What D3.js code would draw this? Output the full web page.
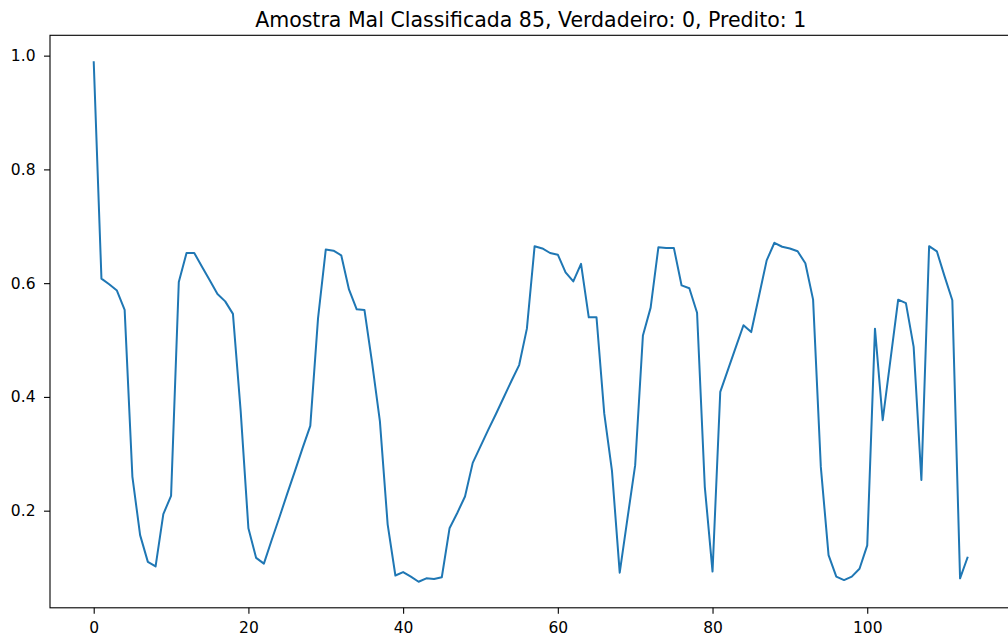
<!DOCTYPE html>
<html>
<head>
<meta charset="utf-8">
<script src="https://cdn.jsdelivr.net/npm/d3@7"></script>
<style>
  html, body { margin: 0; padding: 0; background: #ffffff; }
  svg { display: block; font-family: "DejaVu Sans", sans-serif; }
</style>
</head>
<body>
<svg id="chart" width="1008" height="644"></svg>
<script>
const title = "Amostra Mal Classificada 85, Verdadeiro: 0, Predito: 1";

const values = [
  0.990, 0.608, 0.598, 0.587, 0.553, 0.260, 0.157, 0.110, 0.102, 0.194,
  0.226, 0.602, 0.653, 0.653, 0.629, 0.605, 0.581, 0.568, 0.546, 0.375,
  0.169, 0.117, 0.107, 0.148, 0.188, 0.229, 0.269, 0.310, 0.349, 0.538,
  0.659, 0.657, 0.649, 0.589, 0.554, 0.553, 0.459, 0.357, 0.176, 0.086,
  0.092, 0.084, 0.075, 0.081, 0.080, 0.083, 0.169, 0.196, 0.225, 0.284,
  0.313, 0.342, 0.370, 0.399, 0.428, 0.456, 0.520, 0.665, 0.661, 0.653,
  0.650, 0.619, 0.603, 0.634, 0.540, 0.540, 0.371, 0.270, 0.091, 0.186,
  0.280, 0.508, 0.557, 0.663, 0.662, 0.662, 0.596, 0.591, 0.548, 0.242,
  0.093, 0.409, 0.448, 0.487, 0.526, 0.514, 0.577, 0.640, 0.671, 0.664,
  0.661, 0.656, 0.635, 0.571, 0.277, 0.122, 0.084, 0.078, 0.084, 0.098,
  0.139, 0.520, 0.359, 0.465, 0.571, 0.565, 0.488, 0.254, 0.665, 0.656,
  0.612, 0.570, 0.081, 0.119
];

const xTicks = [0, 20, 40, 60, 80, 100];
const yTicks = [0.2, 0.4, 0.6, 0.8, 1.0];

const svg = d3.select("#chart");
const mLeft = 50, mTop = 35.3, plotW = 961.5, plotH = 572.5;

const n = values.length;
const xPad = (n - 1) * 0.05;
const x = d3.scaleLinear().domain([-xPad, (n - 1) + xPad]).range([mLeft, mLeft + plotW]);
const [ymin, ymax] = d3.extent(values);
const yPad = (ymax - ymin) * 0.05;
const y = d3.scaleLinear().domain([ymin - yPad, ymax + yPad]).range([mTop + plotH, mTop]);

// line
const line = d3.line().x((d, i) => x(i)).y(d => y(d));
svg.append("path")
  .datum(values)
  .attr("d", line)
  .attr("fill", "none")
  .attr("stroke", "#1f77b4")
  .attr("stroke-width", 2)
  .attr("stroke-linejoin", "round")
  .attr("stroke-linecap", "butt");

// axes
const xAxis = d3.axisBottom(x).tickValues(xTicks).tickFormat(d3.format("d")).tickSizeInner(6).tickSizeOuter(0).tickPadding(8.5);
const yAxis = d3.axisLeft(y).tickValues(yTicks).tickFormat(d3.format(".1f")).tickSizeInner(6).tickSizeOuter(0).tickPadding(8.5);

const gx = svg.append("g").attr("transform", `translate(0,${mTop + plotH})`).call(xAxis);
const gy = svg.append("g").attr("transform", `translate(${mLeft},0)`).call(yAxis);
[gx, gy].forEach(g => {
  g.select(".domain").remove();
  g.selectAll(".tick line").attr("stroke", "#000").attr("stroke-width", 1.1);
  g.selectAll(".tick text").attr("fill", "#000").style("font-size", "15.5px").style("font-family", "DejaVu Sans");
});

// spines
svg.append("rect")
  .attr("x", mLeft).attr("y", mTop)
  .attr("width", plotW).attr("height", plotH)
  .attr("fill", "none").attr("stroke", "#000").attr("stroke-width", 1.1);

// title
svg.append("text")
  .attr("x", mLeft + plotW / 2)
  .attr("y", 26.5)
  .attr("text-anchor", "middle")
  .style("font-size", "20.5px")
  .style("font-family", "DejaVu Sans")
  .attr("fill", "#000")
  .text(title);
</script>
</body>
</html>
